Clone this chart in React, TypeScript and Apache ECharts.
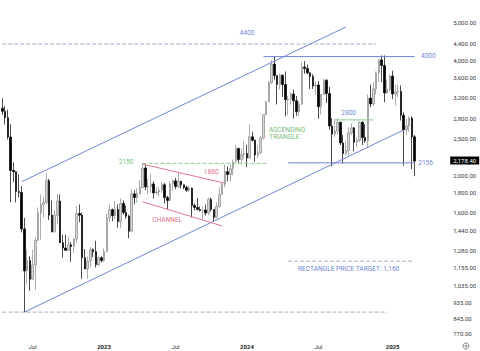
import React, { useEffect, useRef } from "react";
import * as echarts from "echarts";

// ---------- DATA ----------
const firstWeek = "2022-04-18"; // weekly candles, Monday start
const totalSlots = 162; // candles + empty right margin

const openP = [
  2991, 2937, 2827, 2518, 2060, 2043, 1815, 1805, 1450, 1127, 1200, 1072, 1168, 1355, 1596, 1680, 1700, 1935, 1575, 1425,
  1575, 1715, 1335, 1293, 1275, 1318, 1305, 1365, 1590, 1575, 1220, 1140, 1195, 1280, 1265, 1170, 1220, 1200, 1265, 1550,
  1628, 1570, 1630, 1515, 1690, 1600, 1565, 1430, 1790, 1750, 1795, 1860, 2090, 1865, 1870, 1900, 1800, 1810, 1830, 1890,
  1750, 1720, 1900, 1935, 1870, 1930, 1890, 1860, 1830, 1850, 1670, 1650, 1630, 1620, 1625, 1595, 1730, 1630, 1555, 1660,
  1780, 1895, 2045, 2010, 2080, 2170, 2350, 2200, 2270, 2280, 2220, 2520, 2470, 2260, 2290, 2505, 2880, 3110, 3490, 3900,
  3640, 3450, 3650, 3450, 3150, 3160, 3260, 3130, 2930, 3070, 3830, 3800, 3700, 3620, 3420, 3440, 3020, 3250, 3540, 3270,
  2690, 2560, 2610, 2750, 2430, 2280, 2320, 2580, 2660, 2440, 2470, 2750, 2510, 2460, 3180, 3070, 3360, 3700, 4000, 3870,
  3280, 3350, 3630, 3260, 3300, 3310, 2870, 2630, 2690, 2820, 2520,
];
const highP = [
  3174, 3030, 2966, 2720, 2160, 2050, 2015, 1875, 1550, 1280, 1230, 1280, 1380, 1650, 1785, 1750, 2030, 1960, 1720, 1620,
  1790, 1785, 1400, 1400, 1385, 1340, 1370, 1665, 1680, 1600, 1285, 1230, 1300, 1290, 1350, 1230, 1230, 1290, 1590, 1680,
  1640, 1715, 1680, 1740, 1720, 1670, 1580, 1840, 1830, 1850, 1945, 2140, 2130, 1960, 2020, 1930, 1860, 1870, 1920, 1910,
  1770, 1930, 1950, 1970, 2030, 1935, 1890, 1880, 1880, 1860, 1690, 1745, 1660, 1660, 1680, 1750, 1750, 1630, 1700, 1860,
  1910, 2135, 2110, 2130, 2200, 2400, 2360, 2350, 2450, 2400, 2715, 2600, 2480, 2390, 2530, 2880, 3130, 3520, 4000, 4090,
  3640, 3680, 3660, 3730, 3220, 3290, 3350, 3220, 3120, 3950, 3970, 3890, 3710, 3670, 3510, 3520, 3240, 3560, 3560, 3400,
  2820, 2800, 2820, 2760, 2550, 2460, 2670, 2730, 2670, 2520, 2770, 2770, 2720, 3250, 3450, 3500, 3730, 4020, 4110, 4110,
  3550, 3670, 3750, 3450, 3450, 3430, 2920, 2800, 2850, 2850, 2550,
];
const lowP = [
  2876, 2712, 2480, 1704, 1920, 1700, 1750, 1420, 880, 1040, 1000, 1075, 1005, 1350, 1360, 1550, 1680, 1530, 1420, 1420,
  1490, 1340, 1220, 1270, 1270, 1190, 1255, 1335, 1510, 1075, 1140, 1075, 1150, 1225, 1150, 1160, 1185, 1190, 1260, 1510,
  1520, 1535, 1460, 1460, 1580, 1540, 1370, 1430, 1680, 1700, 1780, 1850, 1830, 1780, 1800, 1740, 1780, 1760, 1800, 1690,
  1625, 1720, 1820, 1840, 1850, 1850, 1840, 1810, 1810, 1550, 1620, 1620, 1610, 1530, 1570, 1575, 1610, 1520, 1545, 1645,
  1780, 1860, 1930, 1930, 2000, 2170, 2150, 2150, 2220, 2100, 2210, 2450, 2170, 2220, 2280, 2480, 2870, 3110, 3460, 3550,
  3060, 3350, 3200, 2850, 2870, 3060, 2810, 2860, 2860, 3050, 3680, 3670, 3360, 3360, 3240, 2810, 2880, 3250, 3090, 2630,
  2110, 2520, 2560, 2400, 2150, 2260, 2260, 2550, 2310, 2370, 2440, 2400, 2430, 2360, 3010, 3030, 3250, 3500, 3500, 3100,
  3260, 3310, 3160, 3040, 3200, 2780, 2120, 2550, 2600, 2076, 1990,
];
const closeP = [
  2937, 2827, 2518, 2060, 2043, 1815, 1805, 1450, 1127, 1200, 1072, 1168, 1355, 1596, 1680, 1700, 1935, 1575, 1425, 1575,
  1715, 1335, 1293, 1275, 1318, 1305, 1365, 1590, 1575, 1220, 1140, 1195, 1280, 1265, 1170, 1220, 1200, 1265, 1550, 1628,
  1570, 1630, 1515, 1690, 1600, 1565, 1430, 1790, 1750, 1795, 1860, 2090, 1865, 1870, 1900, 1800, 1810, 1830, 1890, 1750,
  1720, 1900, 1935, 1870, 1930, 1890, 1860, 1830, 1850, 1670, 1650, 1630, 1620, 1625, 1595, 1730, 1630, 1555, 1660, 1780,
  1895, 2045, 2010, 2080, 2170, 2350, 2200, 2270, 2280, 2220, 2520, 2470, 2260, 2290, 2505, 2880, 3110, 3490, 3900, 3640,
  3450, 3650, 3450, 3150, 3160, 3260, 3130, 2930, 3070, 3830, 3800, 3700, 3620, 3420, 3440, 3020, 3250, 3540, 3270, 2690,
  2560, 2610, 2750, 2430, 2280, 2320, 2580, 2660, 2440, 2470, 2750, 2510, 2460, 3180, 3070, 3360, 3700, 4000, 3870, 3280,
  3350, 3630, 3260, 3300, 3310, 2870, 2630, 2690, 2820, 2520, 2178.4,
];

const lastPrice = 2178.4;
const yTicks = [5000, 4400, 4000, 3600, 3200, 2800, 2500, 2000, 1800, 1600, 1440, 1280, 1155, 1035, 935, 845, 770];
const xTickDates = ["2022-07-04", "2023-01-02", "2023-07-03", "2024-01-01", "2024-07-01", "2025-01-06"];
const xTickTexts = ["Jul", "2023", "Jul", "2024", "Jul", "2025"];

// drawn lines: [startIndex, startPrice, endIndex, endPrice]
const upperChannel = [7, 1925, 125, 4873];
const lowerChannel = [8, 880, 146, 2626];
const resistance4000 = [95, 4080, 150, 4080];
const support2156 = [104, 2156, 150, 2156];
const level2800 = [121, 2790, 135, 2790];
const level2150 = [51, 2150, 96, 2150];
const redUpper = [51, 2140, 81, 1907];
const redLower = [51, 1707, 80, 1476];
const level4400 = [0, 4400, 136, 4400];
const level880 = [0, 880, 140, 880];
const target1160 = [104, 1195, 149, 1195];

// annotations: [text, index, price]
const annotationTexts = ["4400", "4000", "2156", "2800", "2150", "1860", "CHANNEL", "ASCENDING\nTRIANGLE", "RECTANGLE PRICE TARGET: 1,160"];
const annotationIdx = [89, 155, 154, 126, 45, 76, 60, 97, 126];
const annotationPrice = [4692, 4100, 2149, 2913, 2167, 2041, 1530, 2568, 1140];

// ---------- STYLE ----------
const BLUE_LINE = "#6f86d8";
const BLUE_TEXT = "#3f63c6";
const RED_LINE = "#e27a8e";
const RED_TEXT = "#d9485f";
const GREEN_TEXT = "#4fa94f";
const GREEN_LINE = "#8fca8f";
const GRAY_DASH = "#a6aec8";
const annotationColors = [BLUE_TEXT, BLUE_TEXT, BLUE_TEXT, BLUE_TEXT, GREEN_TEXT, RED_TEXT, RED_TEXT, GREEN_TEXT, BLUE_TEXT];
const FONT = "Roboto, 'Noto Sans', sans-serif";

const L = Math.log;

function buildDates(): string[] {
  const [y, m, d] = firstWeek.split("-").map(Number);
  const t0 = Date.UTC(y, m - 1, d);
  const out: string[] = [];
  for (let i = 0; i < totalSlots; i++) {
    out.push(new Date(t0 + i * 7 * 86400000).toISOString().slice(0, 10));
  }
  return out;
}

function fmtPrice(p: number): string {
  return p.toLocaleString("en-US", { minimumFractionDigits: 2, maximumFractionDigits: 2 });
}

export default function App() {
  const ref = useRef<HTMLDivElement>(null);

  useEffect(() => {
    if (!ref.current) return;
    const chart = echarts.init(ref.current, undefined, { renderer: "svg" });
    const dates = buildDates();
    const candles = closeP.map((c, i) => [L(openP[i]), L(c), L(lowP[i]), L(highP[i])]);

    const seg = (s: number[], color: string, type: string, z = 3) => ({
      type: "line",
      data: [
        [dates[s[0]], L(s[1])],
        [dates[s[2]], L(s[3])],
      ],
      symbol: "none",
      silent: true,
      z,
      lineStyle: { color, width: 1, type },
    });

    const tickMap: Record<string, string> = {};
    xTickDates.forEach((d, i) => (tickMap[d] = xTickTexts[i]));

    // price scale labels (log scale) placed through the y axis via markLine
    const priceScaleLabels = yTicks.map((t) => ({
      yAxis: L(t),
      label: {
        show: true,
        position: "end",
        formatter: fmtPrice(t),
        color: "#3a3a3a",
        fontSize: 6,
        distance: 7,
        fontFamily: FONT,
      },
    }));

    const option: any = {
      animation: false,
      backgroundColor: "#ffffff",
      textStyle: { fontFamily: FONT },
      grid: { left: 1, right: 33.8, top: 0, bottom: 12, containLabel: false },
      xAxis: {
        type: "category",
        data: dates,
        boundaryGap: true,
        axisLine: { show: false },
        axisTick: { show: false },
        splitLine: { show: false },
        axisLabel: {
          interval: (_i: number, v: string) => v in tickMap,
          formatter: (v: string) => {
            const t = tickMap[v] || "";
            return /\d/.test(t) ? `{b|${t}}` : t;
          },
          fontSize: 6,
          color: "#333",
          margin: 4,
          fontFamily: FONT,
          rich: { b: { fontWeight: "bold", fontSize: 6, color: "#222", fontFamily: FONT } },
        },
      },
      yAxis: {
        type: "value",
        position: "right",
        min: 6.6186,
        max: 8.6535,
        axisLine: { show: false },
        axisTick: { show: false },
        splitLine: { show: false },
        axisLabel: { show: false },
      },
      graphic: [
        { type: "circle", x: 466, y: 346, shape: { cx: 0, cy: 0, r: 3 }, style: { fill: "none", stroke: "#666", lineWidth: 0.8 } },
        { type: "circle", x: 466, y: 346, shape: { cx: 0, cy: 0, r: 1 }, style: { fill: "none", stroke: "#666", lineWidth: 0.8 } },
      ],
      series: [
        {
          type: "candlestick",
          data: candles,
          barWidth: 2,
          z: 2,
          itemStyle: {
            color: "#d6d6d6",
            borderColor: "#8a8a8a",
            color0: "#000000",
            borderColor0: "#000000",
            borderWidth: 0.7,
          },
          markLine: {
            silent: true,
            symbol: ["none", "none"],
            lineStyle: { color: "rgba(0,0,0,0)", width: 1 },
            data: [
              ...priceScaleLabels,
              {
                yAxis: L(lastPrice),
                label: {
                  show: true,
                  position: "end",
                  formatter: fmtPrice(lastPrice),
                  backgroundColor: "#000",
                  color: "#fff",
                  fontSize: 6,
                  padding: [1, 3, 1, 3],
                  distance: 4,
                  fontFamily: FONT,
                },
              },
            ],
          },
        },
        seg(upperChannel, BLUE_LINE, "solid"),
        seg(lowerChannel, BLUE_LINE, "solid"),
        seg(resistance4000, BLUE_LINE, "solid"),
        seg(support2156, BLUE_LINE, "solid"),
        seg(level2800, GREEN_LINE, "solid"),
        seg(level2150, GREEN_LINE, "dashed"),
        seg(redUpper, RED_LINE, "solid"),
        seg(redLower, RED_LINE, "solid"),
        seg(level4400, GRAY_DASH, "dashed", 1),
        seg(level880, GRAY_DASH, "dashed", 1),
        seg(target1160, GRAY_DASH, "dashed", 1),
        {
          type: "scatter",
          silent: true,
          z: 5,
          symbolSize: 1,
          itemStyle: { color: "rgba(0,0,0,0)" },
          data: annotationTexts.map((t, i) => ({
            value: [dates[annotationIdx[i]], L(annotationPrice[i])],
            label: {
              show: true,
              position: "inside",
              formatter: t,
              color: annotationColors[i],
              fontSize: 6.6,
              lineHeight: 7.5,
              align: t.startsWith("ASC") ? "left" : "center",
              fontFamily: FONT,
            },
          })),
        },
      ],
    };
    chart.setOption(option);
    return () => chart.dispose();
  }, []);

  return (
    <div
      ref={ref}
      style={{ position: "absolute", left: 0, top: 0, width: 480, height: 351, background: "#fff" }}
    />
  );
}
